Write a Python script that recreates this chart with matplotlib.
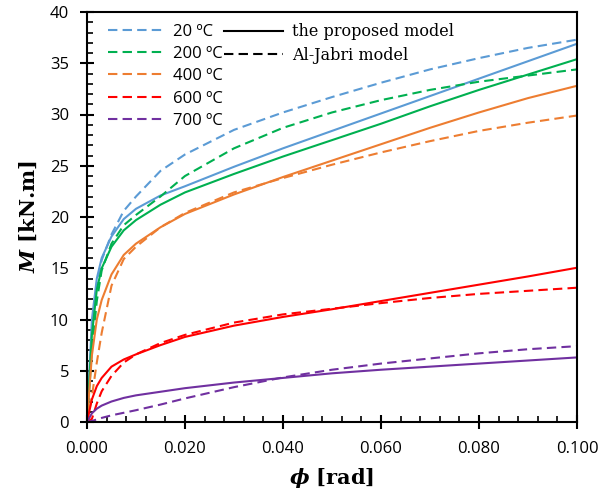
import matplotlib
matplotlib.use("Agg")
import matplotlib.pyplot as plt
from matplotlib.lines import Line2D
from matplotlib.ticker import MultipleLocator, FormatStrFormatter

# ---- data ----
phi = [0, 0.001, 0.002, 0.003, 0.005, 0.0075, 0.01, 0.015, 0.02, 0.03,
       0.04, 0.05, 0.06, 0.07, 0.08, 0.09, 0.1]

temps = ["20 ºC", "200 ºC", "400 ºC", "600 ºC", "700 ºC"]
colors = ["#5B9BD5", "#00B050", "#ED7D31", "#FF0000", "#7030A0"]

# proposed model (solid)
prop_20 = [0, 10.0, 14.0, 16.0, 18.1, 19.8, 20.8, 22.1, 23.0, 24.9,
           26.7, 28.4, 30.1, 31.8, 33.5, 35.2, 36.9]
prop_200 = [0, 8.5, 12.9, 15.0, 17.1, 18.7, 19.7, 21.2, 22.4, 24.2,
            25.9, 27.5, 29.1, 30.8, 32.4, 33.9, 35.4]
prop_400 = [0, 6.5, 10.0, 11.9, 14.4, 16.3, 17.4, 19.0, 20.3, 22.2,
            23.9, 25.5, 27.1, 28.7, 30.2, 31.6, 32.8]
prop_600 = [0, 2.2, 3.5, 4.3, 5.4, 6.1, 6.6, 7.5, 8.3, 9.4,
            10.25, 11.0, 11.8, 12.6, 13.4, 14.2, 15.05]
prop_700 = [0, 0.85, 1.3, 1.6, 2.0, 2.35, 2.6, 2.95, 3.3, 3.85,
            4.3, 4.75, 5.1, 5.4, 5.7, 6.0, 6.3]

# Al-Jabri model (dashed)
alj_20 = [0, 8.5, 13.5, 15.8, 18.3, 20.6, 22.0, 24.5, 26.1, 28.5,
          30.2, 31.7, 33.1, 34.4, 35.5, 36.5, 37.3]
alj_200 = [0, 7.0, 11.8, 14.8, 17.4, 19.2, 20.2, 22.0, 24.0, 26.7,
           28.7, 30.2, 31.4, 32.4, 33.2, 33.8, 34.4]
alj_400 = [0, 2.5, 5.8, 8.7, 13.3, 15.9, 17.1, 19.0, 20.4, 22.4,
           23.8, 25.1, 26.3, 27.4, 28.4, 29.2, 29.9]
alj_600 = [0, 0.3, 1.8, 3.0, 4.5, 5.8, 6.6, 7.7, 8.5, 9.7,
           10.5, 11.05, 11.6, 12.1, 12.5, 12.8, 13.1]
alj_700 = [0, 0.1, 0.25, 0.4, 0.65, 0.9, 1.15, 1.7, 2.3, 3.4,
           4.35, 5.1, 5.7, 6.2, 6.7, 7.1, 7.4]

proposed = [prop_20, prop_200, prop_400, prop_600, prop_700]
aljabri = [alj_20, alj_200, alj_400, alj_600, alj_700]

# ---- figure ----
plt.rcParams['mathtext.fontset'] = 'dejavuserif'
fig = plt.figure(figsize=(6.08, 4.95), dpi=100)
ax = fig.add_axes([87/608, 1 - 422/495, 490/608, 410/495])

lw = 1.5
dash = (4.5, 2.5)
for c, p, a in zip(colors, proposed, aljabri):
    ax.plot(phi, a, color=c, lw=lw, ls=(0, dash))
    ax.plot(phi, p, color=c, lw=lw, ls='-')

ax.set_xlim(0, 0.1)
ax.set_ylim(0, 40)
ax.xaxis.set_major_locator(MultipleLocator(0.02))
ax.xaxis.set_minor_locator(MultipleLocator(0.004))
ax.yaxis.set_major_locator(MultipleLocator(5))
ax.yaxis.set_minor_locator(MultipleLocator(1))
ax.xaxis.set_major_formatter(FormatStrFormatter('%.3f'))

for s in ax.spines.values():
    s.set_linewidth(1.5)
    s.set_color('black')

ax.tick_params(which='major', direction='inout', length=10, width=1.5,
               labelsize=12, top=False, right=False)
ax.tick_params(which='minor', direction='in', length=4, width=1.2,
               top=False, right=False)
ax.tick_params(axis='x', which='major', pad=9)
ax.tick_params(axis='y', which='major', pad=8)
for lab in ax.get_xticklabels() + ax.get_yticklabels():
    lab.set_fontfamily('Open Sans')

ax.set_xlabel(r'$\mathbfit{\phi}$ [rad]', fontfamily='DejaVu Serif',
              fontweight='bold', fontsize=15, labelpad=6)
ax.set_ylabel(r'$\mathbfit{M}$ [kN.m]', fontfamily='DejaVu Serif',
              fontweight='bold', fontsize=15, labelpad=8)

# legends
temp_handles = [Line2D([], [], color=c, lw=lw, ls=(0, dash)) for c in colors]
leg1 = ax.legend(temp_handles, temps, loc='upper left',
                 bbox_to_anchor=(0.02, 1.0), frameon=False,
                 handlelength=3.3, handletextpad=0.6, labelspacing=0.38,
                 borderaxespad=0.3, prop={'family': 'Open Sans', 'size': 12})
ax.add_artist(leg1)

model_handles = [Line2D([], [], color='black', lw=lw, ls='-'),
                 Line2D([], [], color='black', lw=lw, ls=(0, dash))]
ax.legend(model_handles, ["the proposed model", "Al-Jabri model"],
          loc='upper left', bbox_to_anchor=(0.256, 1.0), frameon=False,
          handlelength=3.7, handletextpad=0.6, labelspacing=0.42,
          borderaxespad=0.3, prop={'family': 'DejaVu Serif', 'size': 11.5})

fig.savefig('out.png', dpi=100)
